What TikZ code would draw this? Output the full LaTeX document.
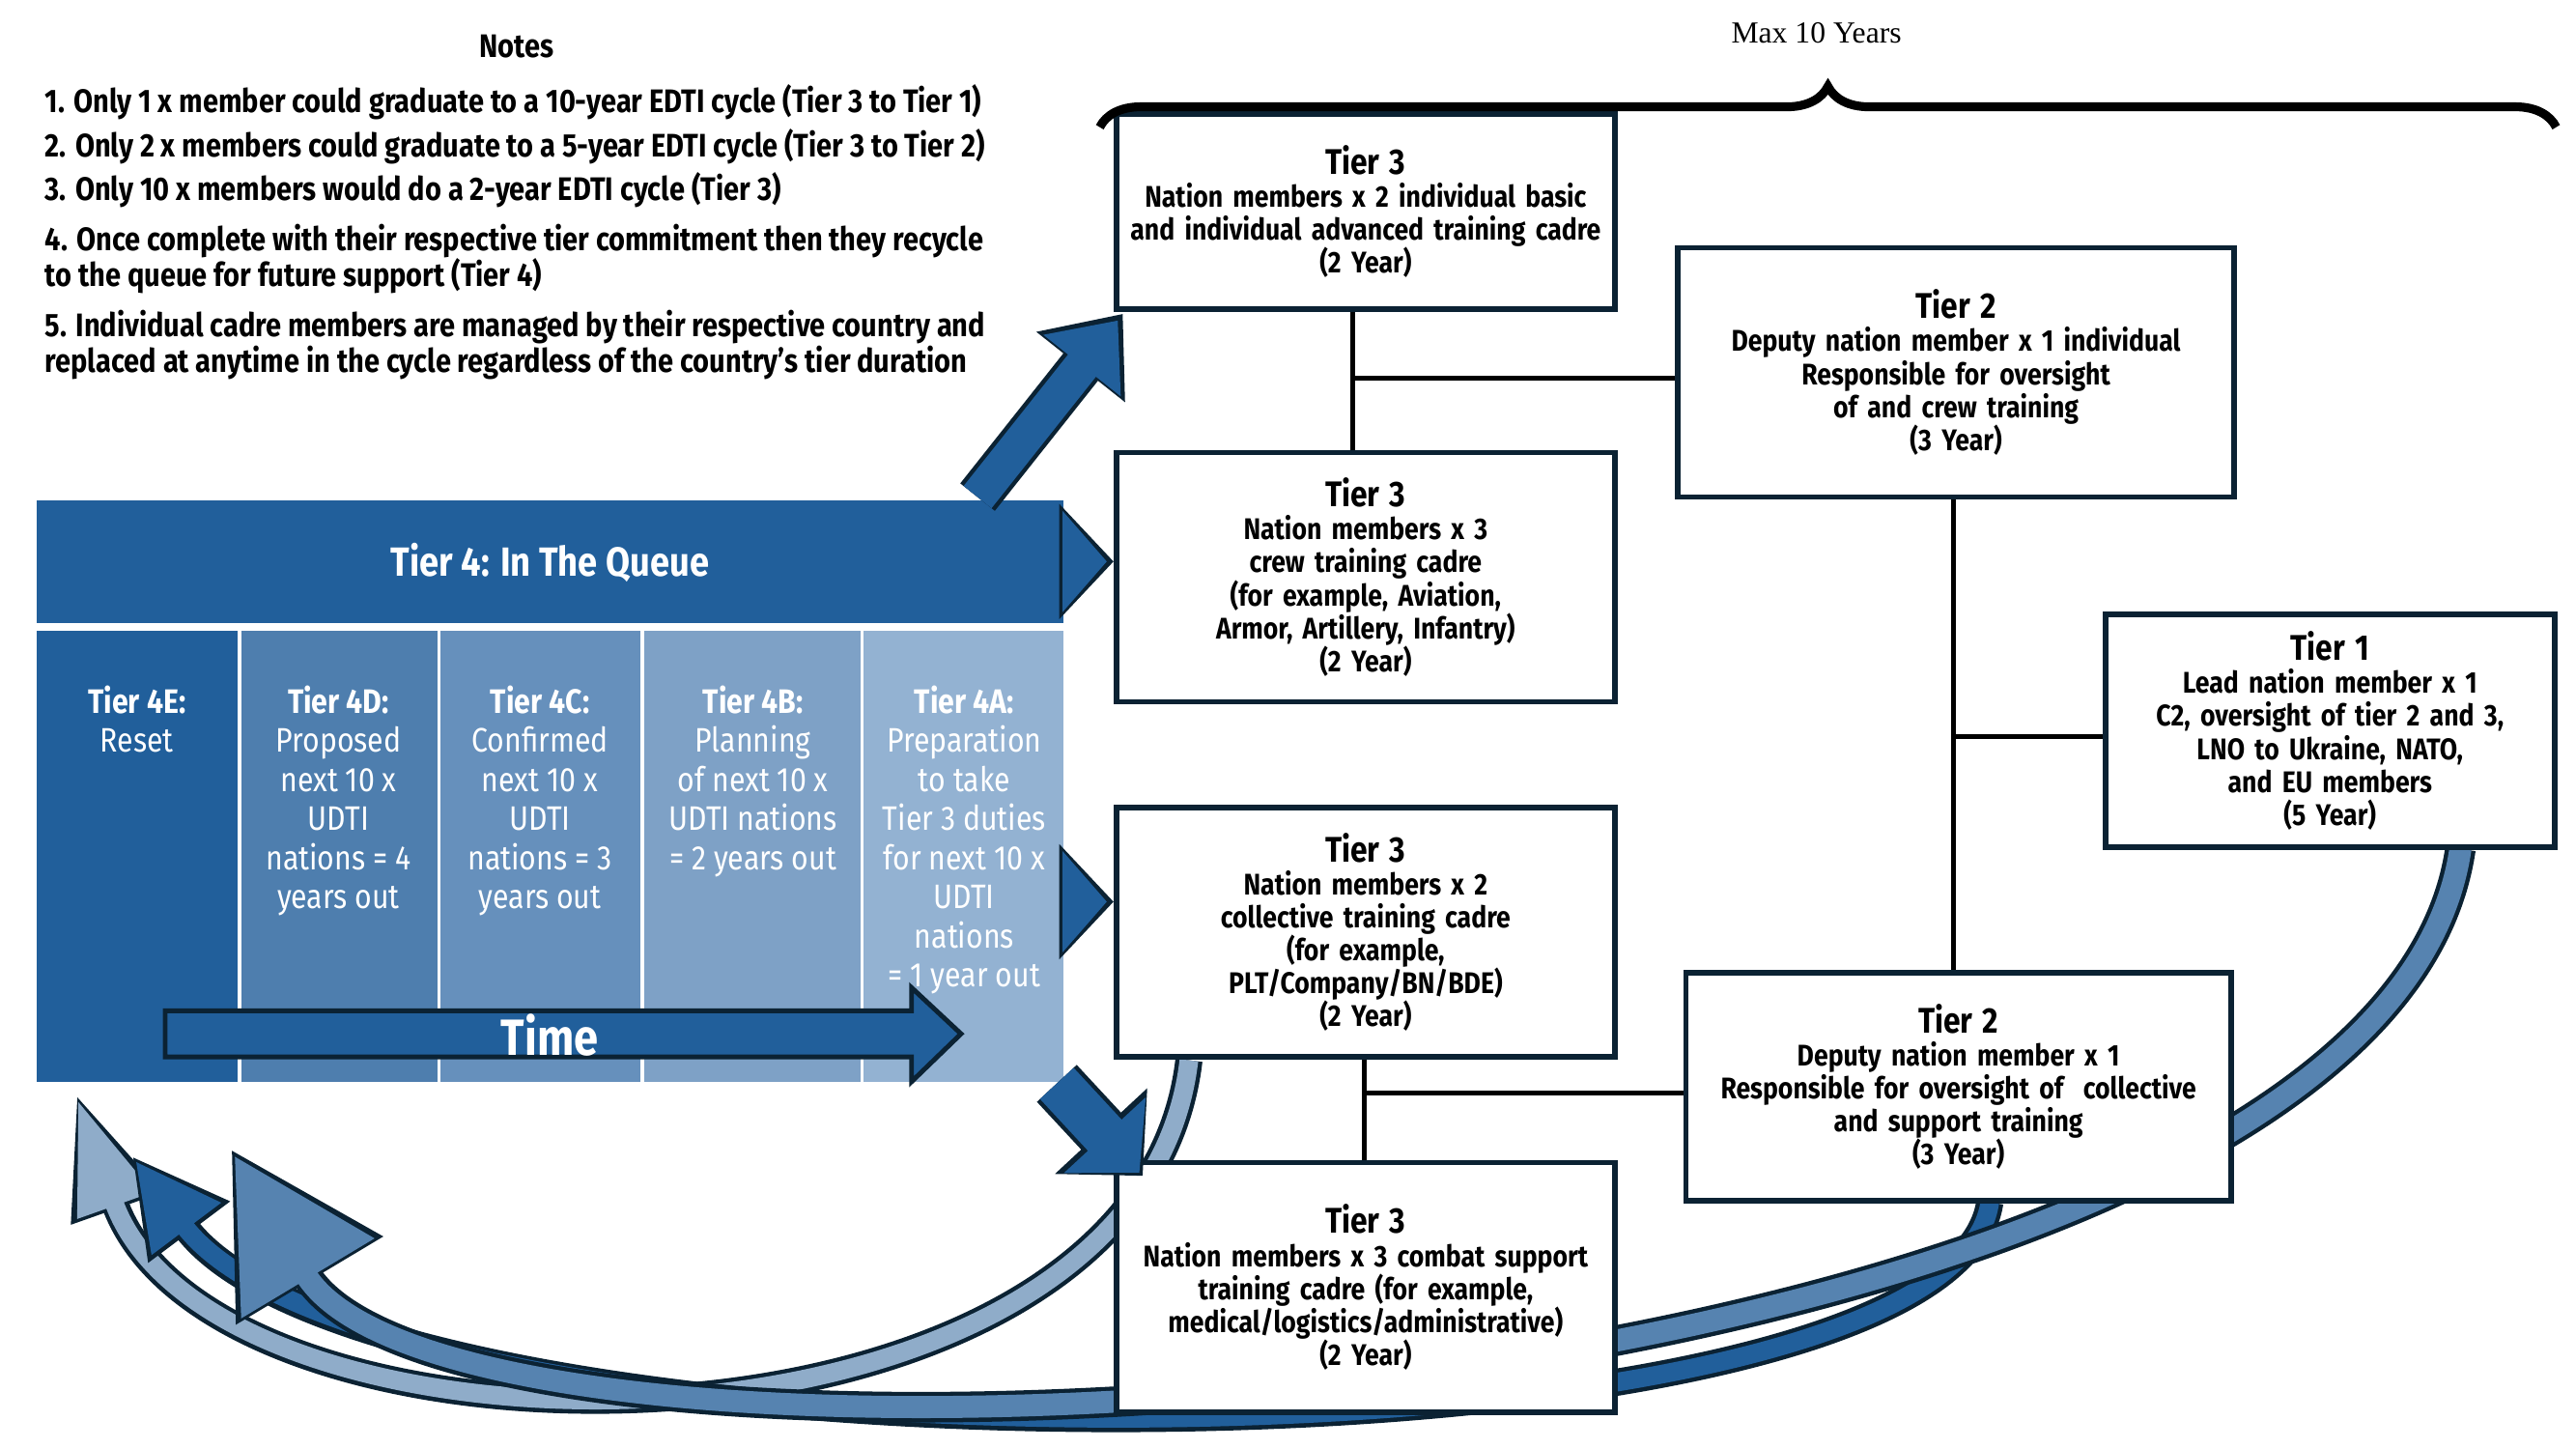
\documentclass[tikz,border=0pt]{standalone}
\usepackage{fontspec}
\setmainfont{Fira Sans}[FakeStretch=0.86]
\newfontfamily\serifm{Liberation Serif}
\usetikzlibrary{arrows.meta,decorations.pathreplacing}
\hyphenpenalty=10000 \exhyphenpenalty=10000
\definecolor{hdr}{HTML}{215F9B}
\definecolor{cD}{HTML}{4E7EAE}
\definecolor{cC}{HTML}{6690BC}
\definecolor{cB}{HTML}{7EA1C6}
\definecolor{cA}{HTML}{93B2D2}
\definecolor{navy}{HTML}{0B2233}
\definecolor{lightb}{HTML}{8FACC9}
\definecolor{medb}{HTML}{5683B0}
\newcommand\thd[1]{{\fontsize{10.5}{12.5}\selectfont #1}}
\begin{document}
\begin{tikzpicture}[x=0.017096cm,y=-0.017096cm,
  box/.style={draw=navy,line width=1.6pt,fill=white,align=center,font=\bfseries\fontsize{8.8}{9.7}\selectfont,inner sep=2pt},
  col/.style={anchor=north,align=center,text=white,font=\fontsize{10}{11.5}\selectfont},
  link/.style={line width=1.5pt,black},
]
\useasboundingbox (0,0) rectangle (1560,877);
% notes
\node[font=\bfseries\fontsize{9.6}{10}\selectfont] (nt) at (313,28) {Notes};
\node[anchor=north west,align=left,font=\bfseries\fontsize{9.6}{10.4}\selectfont,inner sep=0] (notes) at (27,51) {%
\begin{minipage}{9.9cm}\raggedright
1. Only 1 x member could graduate to a 10-year EDTI cycle (Tier 3 to Tier 1)\par\vspace{2.5pt}
2. Only 2 x members could graduate to a 5-year EDTI cycle (Tier 3 to Tier 2)\par\vspace{2.5pt}
3. Only 10 x members would do a 2-year EDTI cycle (Tier 3)\par\vspace{4.5pt}
4. Once complete with their respective tier commitment then they recycle to the queue for future support (Tier 4)\par\vspace{4.5pt}
5. Individual cadre members are managed by their respective country and replaced at anytime in the cycle regardless of the country's tier duration
\end{minipage}};
% queue
\fill[hdr] (22,303) rectangle (644,377);
\node[text=white,font=\bfseries\fontsize{12}{13}\selectfont] (q) at (333,341) {Tier 4: In The Queue};
\fill[hdr] (22,382) rectangle (144,655);
\fill[cD] (146,382) rectangle (265,655);
\fill[cC] (267,382) rectangle (388,655);
\fill[cB] (390,382) rectangle (521,655);
\fill[cA] (523,382) rectangle (644,655);
\node[col] (e) at (83,408) {\textbf{Tier 4E:}\\Reset};
\node[col] (d) at (205,408) {\textbf{Tier 4D:}\\Proposed\\next 10 x\\UDTI\\nations = 4\\years out};
\node[col] (c) at (327,408) {\textbf{Tier 4C:}\\Confirmed\\next 10 x\\UDTI\\nations = 3\\years out};
\node[col] (b) at (456,408) {\textbf{Tier 4B:}\\Planning\\of next 10 x\\UDTI nations\\= 2 years out};
\node[col] (a) at (584,408) {\textbf{Tier 4A:}\\Preparation\\to take\\Tier 3 duties\\for next 10 x\\UDTI\\nations\\= 1 year out};
% time arrow
\draw[fill=hdr,draw=navy,line width=1.4pt] (100,612) -- (552,612) -- (552,598) -- (582,626) -- (552,655) -- (552,640) -- (100,640) -- cycle;
\node[text=white,font=\bfseries\fontsize{15}{16}\selectfont] (t) at (333,627) {Time};
% return curves (behind boxes)
\coordinate (r1) at (720,642);
\coordinate (r2) at (1205,728);
\coordinate (r3) at (1490,514);
\draw[line width=8pt,navy,-{Triangle[length=36pt,width=26pt]}] (r1) .. controls (690,900) and (130,900) .. (46,662);
\draw[line width=5.5pt,lightb,-{Triangle[length=33pt,width=22pt]}] (r1) .. controls (690,900) and (130,900) .. (47,666);
\draw[line width=8pt,navy,-{Triangle[length=28pt,width=28pt]}] (r2) .. controls (1180,900) and (230,900) .. (80,700);
\draw[line width=5.5pt,hdr,-{Triangle[length=25pt,width=24pt]}] (r2) .. controls (1180,900) and (230,900) .. (82,703);
\draw[line width=9pt,navy,-{Triangle[length=45pt,width=48pt]}] (r3) .. controls (1440,860) and (280,930) .. (140,696);
\draw[line width=6.5pt,medb,-{Triangle[length=42pt,width=44pt]}] (r3) .. controls (1440,860) and (280,930) .. (142,700);
% boxes
\node[box,text width=4.9cm,minimum width=5.16cm,minimum height=2.02cm] (t3a) at (827,128) {\thd{Tier 3}\\Nation members x 2 individual basic and individual advanced training cadre\\(2 Year)};
\node[box,text width=5.5cm,minimum width=5.76cm,minimum height=2.58cm] (t2a) at (1184.5,225.5) {\thd{Tier 2}\\Deputy nation member x 1 individual\\Responsible for oversight of and crew training\\(3 Year)};
\node[box,text width=4.9cm,minimum width=5.16cm,minimum height=2.58cm] (t3b) at (827,349.5) {\thd{Tier 3}\\Nation members x 3 crew training cadre\\(for example, Aviation, Armor, Artillery, Infantry)\\(2 Year)};
\node[box,text width=4.4cm,minimum width=4.65cm,minimum height=2.41cm] (t1) at (1411,442.5) {\thd{Tier 1}\\Lead nation member x 1\\C2, oversight of tier 2 and 3,\\LNO to Ukraine, NATO,\\and EU members\\(5 Year)};
\node[box,text width=4.9cm,minimum width=5.16cm,minimum height=2.58cm] (t3c) at (827,564.5) {\thd{Tier 3}\\Nation members x 2\\collective training cadre\\(for example,\\PLT/Company/BN/BDE)\\(2 Year)};
\node[box,text width=5.4cm,minimum width=5.64cm,minimum height=2.36cm] (t2b) at (1186,658) {\thd{Tier 2}\\Deputy nation member x 1\\Responsible for oversight of\ \ collective\\and support training\\(3 Year)};
\node[box,text width=4.9cm,minimum width=5.16cm,minimum height=2.58cm] (t3d) at (827,779.5) {\thd{Tier 3}\\Nation members x 3 combat support training cadre (for example, medical/logistics/administrative)\\(2 Year)};
% links
\coordinate (j1) at (819,229);
\coordinate (j2) at (1183,446);
\coordinate (j3) at (826,662);
\draw[link] (t3a.south -| j1) -- (t3b.north -| j1);
\draw[link] (j1) -- (j1 -| t2a.west);
\draw[link] (t2a.south -| j2) -- (t2b.north -| j2);
\draw[link] (j2) -- (j2 -| t1.west);
\draw[link] (t3c.south -| j3) -- (t3d.north -| j3);
\draw[link] (j3) -- (j3 -| t2b.west);
% brace
\draw[line width=2.6pt,decorate,decoration={brace,amplitude=12pt}] (666,77) -- (1548,77);
\node[font=\serifm\fontsize{9}{10}\selectfont] (mx) at (1100,20) {Max 10 Years};
% block arrows into tier 3
\coordinate (s1) at (592,301);
\coordinate (s2) at (645,340);
\coordinate (s3) at (645,546);
\coordinate (s4) at (640,656);
\draw[line width=13pt,navy,-{Triangle[length=20pt,width=32pt]}] (s1) -- (680,190);
\draw[line width=10.5pt,hdr,-{Triangle[length=17pt,width=28pt]}] (s1) -- (677,194);
\draw[line width=16pt,navy,-{Triangle[length=16pt,width=33pt]}] (s2) -- (t3b.west |- s2);
\draw[line width=13.5pt,hdr,-{Triangle[length=13pt,width=29pt]}] (s2) -- ([xshift=-2pt]t3b.west |- s2);
\draw[line width=16pt,navy,-{Triangle[length=16pt,width=33pt]}] (s3) -- (t3c.west |- s3);
\draw[line width=13.5pt,hdr,-{Triangle[length=13pt,width=29pt]}] (s3) -- ([xshift=-2pt]t3c.west |- s3);
\draw[line width=16pt,navy,-{Triangle[length=18pt,width=36pt]}] (s4) -- (692,712);
\draw[line width=13.5pt,hdr,-{Triangle[length=15pt,width=32pt]}] (s4) -- (690,710);
\end{tikzpicture}
\end{document}
